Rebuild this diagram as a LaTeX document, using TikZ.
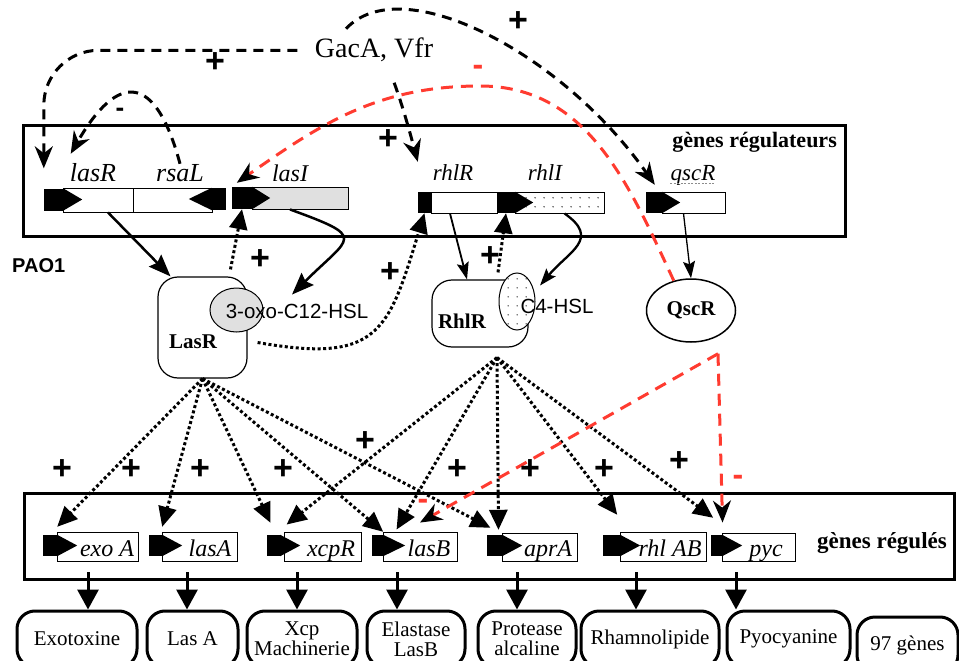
\documentclass[tikz,border=0pt]{standalone}
\usepackage{fontspec}
\setmainfont{Liberation Serif}
\setsansfont{Liberation Sans}
\usepackage{xcolor}
\usepackage{tikz}
\usetikzlibrary{arrows.meta,shapes.geometric,patterns,patterns.meta}

\definecolor{qred}{RGB}{255,59,48}

\tikzdeclarepattern{
  name=sparsedots,
  type=uncolored,
  bounding box={(0pt,0pt) and (9pt,9pt)},
  tile size={(9pt,9pt)},
  code={\fill (4.5pt,4.5pt) circle [radius=0.75pt];}
}

\begin{document}
\begin{tikzpicture}[x=1pt, y=1pt,
    bigbox/.style={draw, line width=3pt, inner sep=0pt},
    gbox/.style={draw, line width=0.9pt, fill=white, inner sep=0pt, minimum height=24pt},
    prom/.style={fill=black, inner sep=0pt, minimum height=22pt},
    gtxt/.style={font=\fontsize{26}{26}\selectfont\itshape, anchor=base, inner sep=0pt},
    btxt/.style={font=\fontsize{24}{24}\selectfont\itshape, anchor=base, inner sep=0pt},
    prot/.style={draw, line width=1.2pt, fill=white, rounded corners=20pt, inner sep=0pt},
    protlab/.style={font=\fontsize{21}{21}\selectfont\bfseries},
    ligand/.style={ellipse, draw, line width=1pt, inner sep=0pt},
    ligtxt/.style={font=\fontsize{20.5}{20.5}\selectfont\sffamily, inner sep=1pt},
    product/.style={draw, line width=3pt, fill=white, rounded corners=18pt, minimum height=56pt, inner sep=0pt, align=center, font=\fontsize{21}{20}\selectfont},
    plus/.style={font=\fontsize{34}{34}\selectfont\sffamily\bfseries, inner sep=0pt},
    minus/.style={font=\fontsize{32}{32}\selectfont\sffamily\bfseries, inner sep=0pt},
    % Edge styles
    gacedge/.style={line width=3pt, dash pattern=on 10pt off 7pt, -{Stealth[length=22pt, width=18pt, inset=7pt]}},
    rededge/.style={qred, line width=3pt, dash pattern=on 12pt off 8pt, -{Stealth[length=22pt, width=18pt, inset=7pt, color=black]}},
    dotedge/.style={line width=3pt, dash pattern=on 3pt off 2.5pt, -{Triangle[length=20pt, width=18pt]}},
    fatedge/.style={line width=2.5pt, -{Stealth[length=22pt, width=17pt, inset=3pt]}},
    thinedge/.style={line width=1.8pt, -{Stealth[length=17pt, width=12pt, inset=3pt]}},
    outedge/.style={line width=3pt, shorten <=11pt, -{Triangle[length=20pt, width=21pt]}},
    ]
    \useasboundingbox (0,0) rectangle (959,-661);

    % Frames and titles
    \node[bigbox, minimum width=822pt, minimum height=111pt] (regbox) at (434,-180.5) {};
    \node[font=\fontsize{22}{22}\selectfont\bfseries, anchor=base east, inner sep=0pt] (reglab) at (837,-147) {gènes régulateurs};
    \node[bigbox, minimum width=930pt, minimum height=86pt] (tgtbox) at (489,-536) {};
    \node[font=\fontsize{23}{23}\selectfont\bfseries, anchor=base east, inner sep=0pt] (tgtlab) at (947,-548) {gènes régulés};
    \node[font=\fontsize{20}{20}\selectfont\sffamily\bfseries, anchor=base west, inner sep=0pt] (pao) at (12,-272) {PAO1};
    \node[font=\fontsize{28}{28}\selectfont, anchor=base] (gacA) at (374,-58) {GacA, Vfr};

    % Regulator genes
    \node[gbox, minimum width=70pt] (lasRbox) at (98,-200) {};
    \node[gbox, minimum width=79pt] (rsaLbox) at (172.5,-200) {};
    \node[prom, minimum width=19pt] (lasRp) at (53.5,-199.5) {};
    \fill (lasRp.north east) -- ([xshift=19pt]lasRp.east) -- (lasRp.south east) -- cycle;
    \node[prom, minimum width=14pt] (rsaLp) at (219,-199) {};
    \fill (rsaLp.north west) -- ([xshift=-23pt]rsaLp.west) -- (rsaLp.south west) -- cycle;
    \node[gbox, fill=black!12, minimum width=96pt, minimum height=22pt] (lasIbox) at (300,-198) {};
    \node[prom, minimum width=20pt] (lasIp) at (242,-198) {};
    \fill (lasIp.north east) -- ([xshift=18pt]lasIp.east) -- (lasIp.south east) -- cycle;
    \node[gbox, minimum width=66pt, minimum height=21pt] (rhlRbox) at (464,-202.5) {};
    \node[gbox, minimum width=89pt, minimum height=21pt, postaction={pattern=sparsedots}] (rhlIbox) at (559.5,-202.5) {};
    \node[prom, minimum width=13pt, minimum height=21pt] (rhlRp) at (424.5,-202.5) {};
    \node[prom, minimum width=18pt, minimum height=21pt] (rhlIp) at (506,-202.5) {};
    \fill (rhlIp.north east) -- ([xshift=18pt]rhlIp.east) -- (rhlIp.south east) -- cycle;
    \node[gbox, minimum width=63pt, minimum height=21pt] (qscRbox) at (693.5,-202.5) {};
    \node[prom, minimum width=16pt, minimum height=21pt] (qscRp) at (654,-202.5) {};
    \fill (qscRp.north east) -- ([xshift=18pt]qscRp.east) -- (qscRp.south east) -- cycle;

    \node[gtxt] (lasRlab) at (93,-181) {lasR};
    \node[gtxt] (rsaLlab) at (180,-181) {rsaL};
    \node[gtxt, font=\fontsize{24}{24}\selectfont\itshape] (lasIlab) at (290,-181) {lasI};
    \node[gtxt, font=\fontsize{23}{23}\selectfont\itshape] (rhlRlab) at (453,-180) {rhlR};
    \node[gtxt, font=\fontsize{23}{23}\selectfont\itshape] (rhlIlab) at (545,-180) {rhlI};
    \node[gtxt, font=\fontsize{23}{23}\selectfont\itshape] (qscRlab) at (693,-180) {qscR};
    \draw[black!45, dash pattern=on 2pt off 1.5pt, line width=0.6pt] ([yshift=-3pt]qscRlab.base west) -- ([yshift=-3pt]qscRlab.base east);

    % Regulators and their signals
    \node[prot, minimum width=89pt, minimum height=101pt] (LasR) at (202.5,-327.5) {};
    \node[protlab] (LasRlab) at (193,-342) {LasR};
    \node[ligand, fill=black!12, minimum width=53pt, minimum height=44pt] (oxoblob) at (236.5,-310) {};
    \node[ligtxt] (oxo) at (297,-311) {3-oxo-C12-HSL};
    \node[prot, minimum width=96pt, minimum height=67pt] (RhlR) at (480,-313.5) {};
    \node[protlab] (RhlRlab) at (462,-321) {RhlR};
    \node[ligand, preaction={fill=white}, pattern=sparsedots, minimum width=36pt, minimum height=57pt] (c4blob) at (517,-301.5) {};
    \node[ligtxt] (c4) at (557,-306) {C4-HSL};
    \node[ellipse, draw, line width=1.5pt, minimum width=89pt, minimum height=63pt, protlab] (QscR) at (691,-310.5) {QscR};

    % Regulated genes
    \node[gbox, minimum width=81pt, minimum height=29pt] (exoAbox) at (97.5,-546.5) {};
    \node[prom, minimum width=14pt, minimum height=21pt] (exoAp) at (50,-545.5) {};
    \fill (exoAp.north east) -- ([xshift=20pt]exoAp.east) -- (exoAp.south east) -- cycle;
    \node[btxt] (exoAlab) at (107,-556) {exo A};

    \node[gbox, minimum width=75pt, minimum height=29pt] (lasAbox) at (199.5,-546.5) {};
    \node[prom, minimum width=13pt, minimum height=21pt] (lasAp) at (155.5,-545.5) {};
    \fill (lasAp.north east) -- ([xshift=20pt]lasAp.east) -- (lasAp.south east) -- cycle;
    \node[btxt] (lasAlab) at (210,-556) {lasA};

    \node[gbox, minimum width=77pt, minimum height=29pt] (xcpRbox) at (322.5,-546.5) {};
    \node[prom, minimum width=13pt, minimum height=21pt] (xcpRp) at (273.5,-545.5) {};
    \fill (xcpRp.north east) -- ([xshift=20pt]xcpRp.east) -- (xcpRp.south east) -- cycle;
    \node[btxt] (xcpRlab) at (331,-556) {xcpR};

    \node[gbox, minimum width=74pt, minimum height=29pt] (lasBbox) at (420,-546.5) {};
    \node[prom, minimum width=11pt, minimum height=21pt] (lasBp) at (377.5,-545.5) {};
    \fill (lasBp.north east) -- ([xshift=22pt]lasBp.east) -- (lasBp.south east) -- cycle;
    \node[btxt] (lasBlab) at (429,-556) {lasB};

    \node[gbox, minimum width=75pt, minimum height=28pt] (aprAbox) at (539.5,-547) {};
    \node[prom, minimum width=15pt, minimum height=21pt] (aprAp) at (494.5,-545.5) {};
    \fill (aprAp.north east) -- ([xshift=20pt]aprAp.east) -- (aprAp.south east) -- cycle;
    \node[btxt] (aprAlab) at (548,-556) {aprA};

    \node[gbox, minimum width=86pt, minimum height=29pt] (rhlABbox) at (663,-546.5) {};
    \node[prom, minimum width=17pt, minimum height=21pt] (rhlABp) at (611.5,-545.5) {};
    \fill (rhlABp.north east) -- ([xshift=20pt]rhlABp.east) -- (rhlABp.south east) -- cycle;
    \node[btxt] (rhlABlab) at (670,-556) {rhl AB};

    \node[gbox, minimum width=73pt, minimum height=28pt] (pycbox) at (758.5,-547) {};
    \node[prom, minimum width=11pt, minimum height=21pt] (pycp) at (716.5,-545.5) {};
    \fill (pycp.north east) -- ([xshift=20pt]pycp.east) -- (pycp.south east) -- cycle;
    \node[btxt] (pyclab) at (766,-556) {pyc};

    % Products
    \node[product, minimum width=120pt] (exotox) at (77,-639) {Exotoxine};
    \node[product, minimum width=91pt] (lasAprot) at (192.5,-639) {Las A};
    \node[product, minimum width=110pt] (xcpmach) at (302,-639) {Xcp\\Machinerie};
    \node[product, minimum width=98pt] (elast) at (416,-639) {Elastase\\LasB};
    \node[product, minimum width=98pt] (protease) at (527,-639) {Protease\\alcaline};
    \node[product, minimum width=138pt] (rhamno) at (650,-639) {Rhamnolipide};
    \node[product, minimum width=123pt] (pyocy) at (788.5,-639) {Pyocyanine};
    \node[product, minimum width=101pt] (others) at (907.5,-645) {97 gènes};

    % GacA, Vfr act on the regulator genes
    \draw[gacedge, rounded corners=55pt, shorten <=14pt] (gacA.west) -| ([yshift=20pt]lasRp.north west);
    \node[plus] at (215,-63) {+};
    \draw[gacedge, shorten <=18pt] ([xshift=14pt]gacA.south) to[out=-70, in=105] ([yshift=30pt]rhlRp.north west);
    \node[plus] at (388,-140) {+};
    \draw[gacedge] ([xshift=-28pt,yshift=6pt]gacA.north) to[out=47, in=125, out looseness=0.6, in looseness=1.2] ([xshift=9pt,yshift=7pt]qscRp.north west);
    \node[plus] at (518,-22) {+};

    % RsaL represses lasR
    \draw[gacedge] (rsaLlab.north) to[out=105, in=60, looseness=2.2] ([xshift=1pt,yshift=9pt]lasRlab.north west);
    \node[minus, font=\fontsize{26}{26}\selectfont\sffamily\bfseries] at (120,-112) {-};

    % QscR represses lasI
    \coordinate (redtop) at (480,-86);
    \draw[rededge] (QscR.120) to[out=115, in=0] (redtop) to[out=180, in=35] ([xshift=5pt,yshift=4pt]lasIp.north west);
    \node[minus, qred] at (478,-70) {-};

    % Synthesis of proteins and signals
    \draw[fatedge] ([xshift=10pt]lasRbox.south) -- ([xshift=-32pt]LasR.north);
    \draw[fatedge] ([xshift=-10pt]lasIbox.south) to[out=-20, in=45, looseness=2.5] ([xshift=-5pt,yshift=8pt]oxo.north);
    \draw[thinedge] ([xshift=-14pt]rhlRbox.south) -- ([xshift=-13pt]RhlR.north);
    \draw[thinedge, line width=2.3pt] ([xshift=5pt]rhlIbox.south) to[out=-35, in=50, looseness=1.5] ([xshift=-17pt,yshift=12pt]c4.north);
    \draw[thinedge, line width=1.3pt] ([xshift=-10pt]qscRbox.south) -- (QscR.north);

    % Autoinduction and LasR on rhlR
    \draw[dotedge] ([xshift=28pt,yshift=7pt]LasR.north) -- (lasIp.south);
    \node[plus] at (260,-260) {+};
    \draw[dotedge] ([xshift=10pt,yshift=-15pt]LasR.east) to[out=-10, in=-107, looseness=1.5] (rhlRp.south);
    \node[plus] at (390,-273) {+};
    \draw[dotedge] ([xshift=18pt,yshift=7pt]RhlR.north) -- (rhlIp.south);
    \node[plus] at (490,-257) {+};

    % LasR regulon
    \draw[dotedge] (LasR.south) -- ([yshift=8pt]exoAp.north east);
    \draw[dotedge] (LasR.south) -- ([yshift=8pt]lasAp.north east);
    \draw[dotedge] (LasR.south) -- ([xshift=-3pt,yshift=12pt]xcpRp.north);
    \draw[dotedge] (LasR.south) -- ([yshift=3pt]lasBp.north east);
    \draw[dotedge] (LasR.south) -- ([xshift=-4pt,yshift=7pt]aprAp.north);

    % RhlR regulon
    \coordinate (rhlfoot) at ([xshift=17pt,yshift=-10pt]RhlR.south);
    \draw[dotedge] (rhlfoot) -- ([xshift=3pt,yshift=7pt]xcpRbox.north west);
    \draw[dotedge] (rhlfoot) -- ([xshift=14pt,yshift=2pt]lasBbox.north west);
    \draw[dotedge] (rhlfoot) -- ([xshift=4pt,yshift=5pt]aprAp.north);
    \draw[dotedge] (rhlfoot) -- ([xshift=-3pt,yshift=20pt]rhlABp.north east);
    \draw[dotedge] (rhlfoot) -- ([xshift=-9pt,yshift=17pt]pycp.north east);

    % QscR represses lasB and pyc
    \coordinate (qscfoot) at ([xshift=27pt,yshift=-11pt]QscR.south);
    \draw[rededge] (qscfoot) -- ([yshift=9pt]lasBbox.north);
    \draw[rededge] (qscfoot) -- ([xshift=1pt,yshift=10pt]pycbox.north west);
    \node[minus, qred] at (423,-504) {-};
    \node[minus, qred] at (738,-480) {-};

    % Activation signs
    \node[plus] at (62,-470) {+};
    \node[plus] at (131,-470) {+};
    \node[plus] at (200,-470) {+};
    \node[plus] at (283,-470) {+};
    \node[plus] at (365,-442) {+};
    \node[plus] at (457,-470) {+};
    \node[plus] at (530,-470) {+};
    \node[plus] at (604,-470) {+};
    \node[plus] at (679,-462) {+};

    % Gene products
    \draw[outedge] ([xshift=-9.5pt]exoAbox.south) -- ([xshift=-9.5pt]exoAbox.south |- exotox.north);
    \draw[outedge] ([xshift=-12.5pt]lasAbox.south) -- ([xshift=-12.5pt]lasAbox.south |- lasAprot.north);
    \draw[outedge] ([xshift=-25.5pt]xcpRbox.south) -- ([xshift=-25.5pt]xcpRbox.south |- xcpmach.north);
    \draw[outedge] ([xshift=-23pt]lasBbox.south) -- ([xshift=-23pt]lasBbox.south |- elast.north);
    \draw[outedge] ([xshift=-22.5pt]aprAbox.south) -- ([xshift=-22.5pt]aprAbox.south |- protease.north);
    \draw[outedge] ([xshift=-27pt]rhlABbox.south) -- ([xshift=-27pt]rhlABbox.south |- rhamno.north);
    \draw[outedge] ([xshift=-22.5pt]pycbox.south) -- ([xshift=-22.5pt]pycbox.south |- pyocy.north);
\end{tikzpicture}
\end{document}
